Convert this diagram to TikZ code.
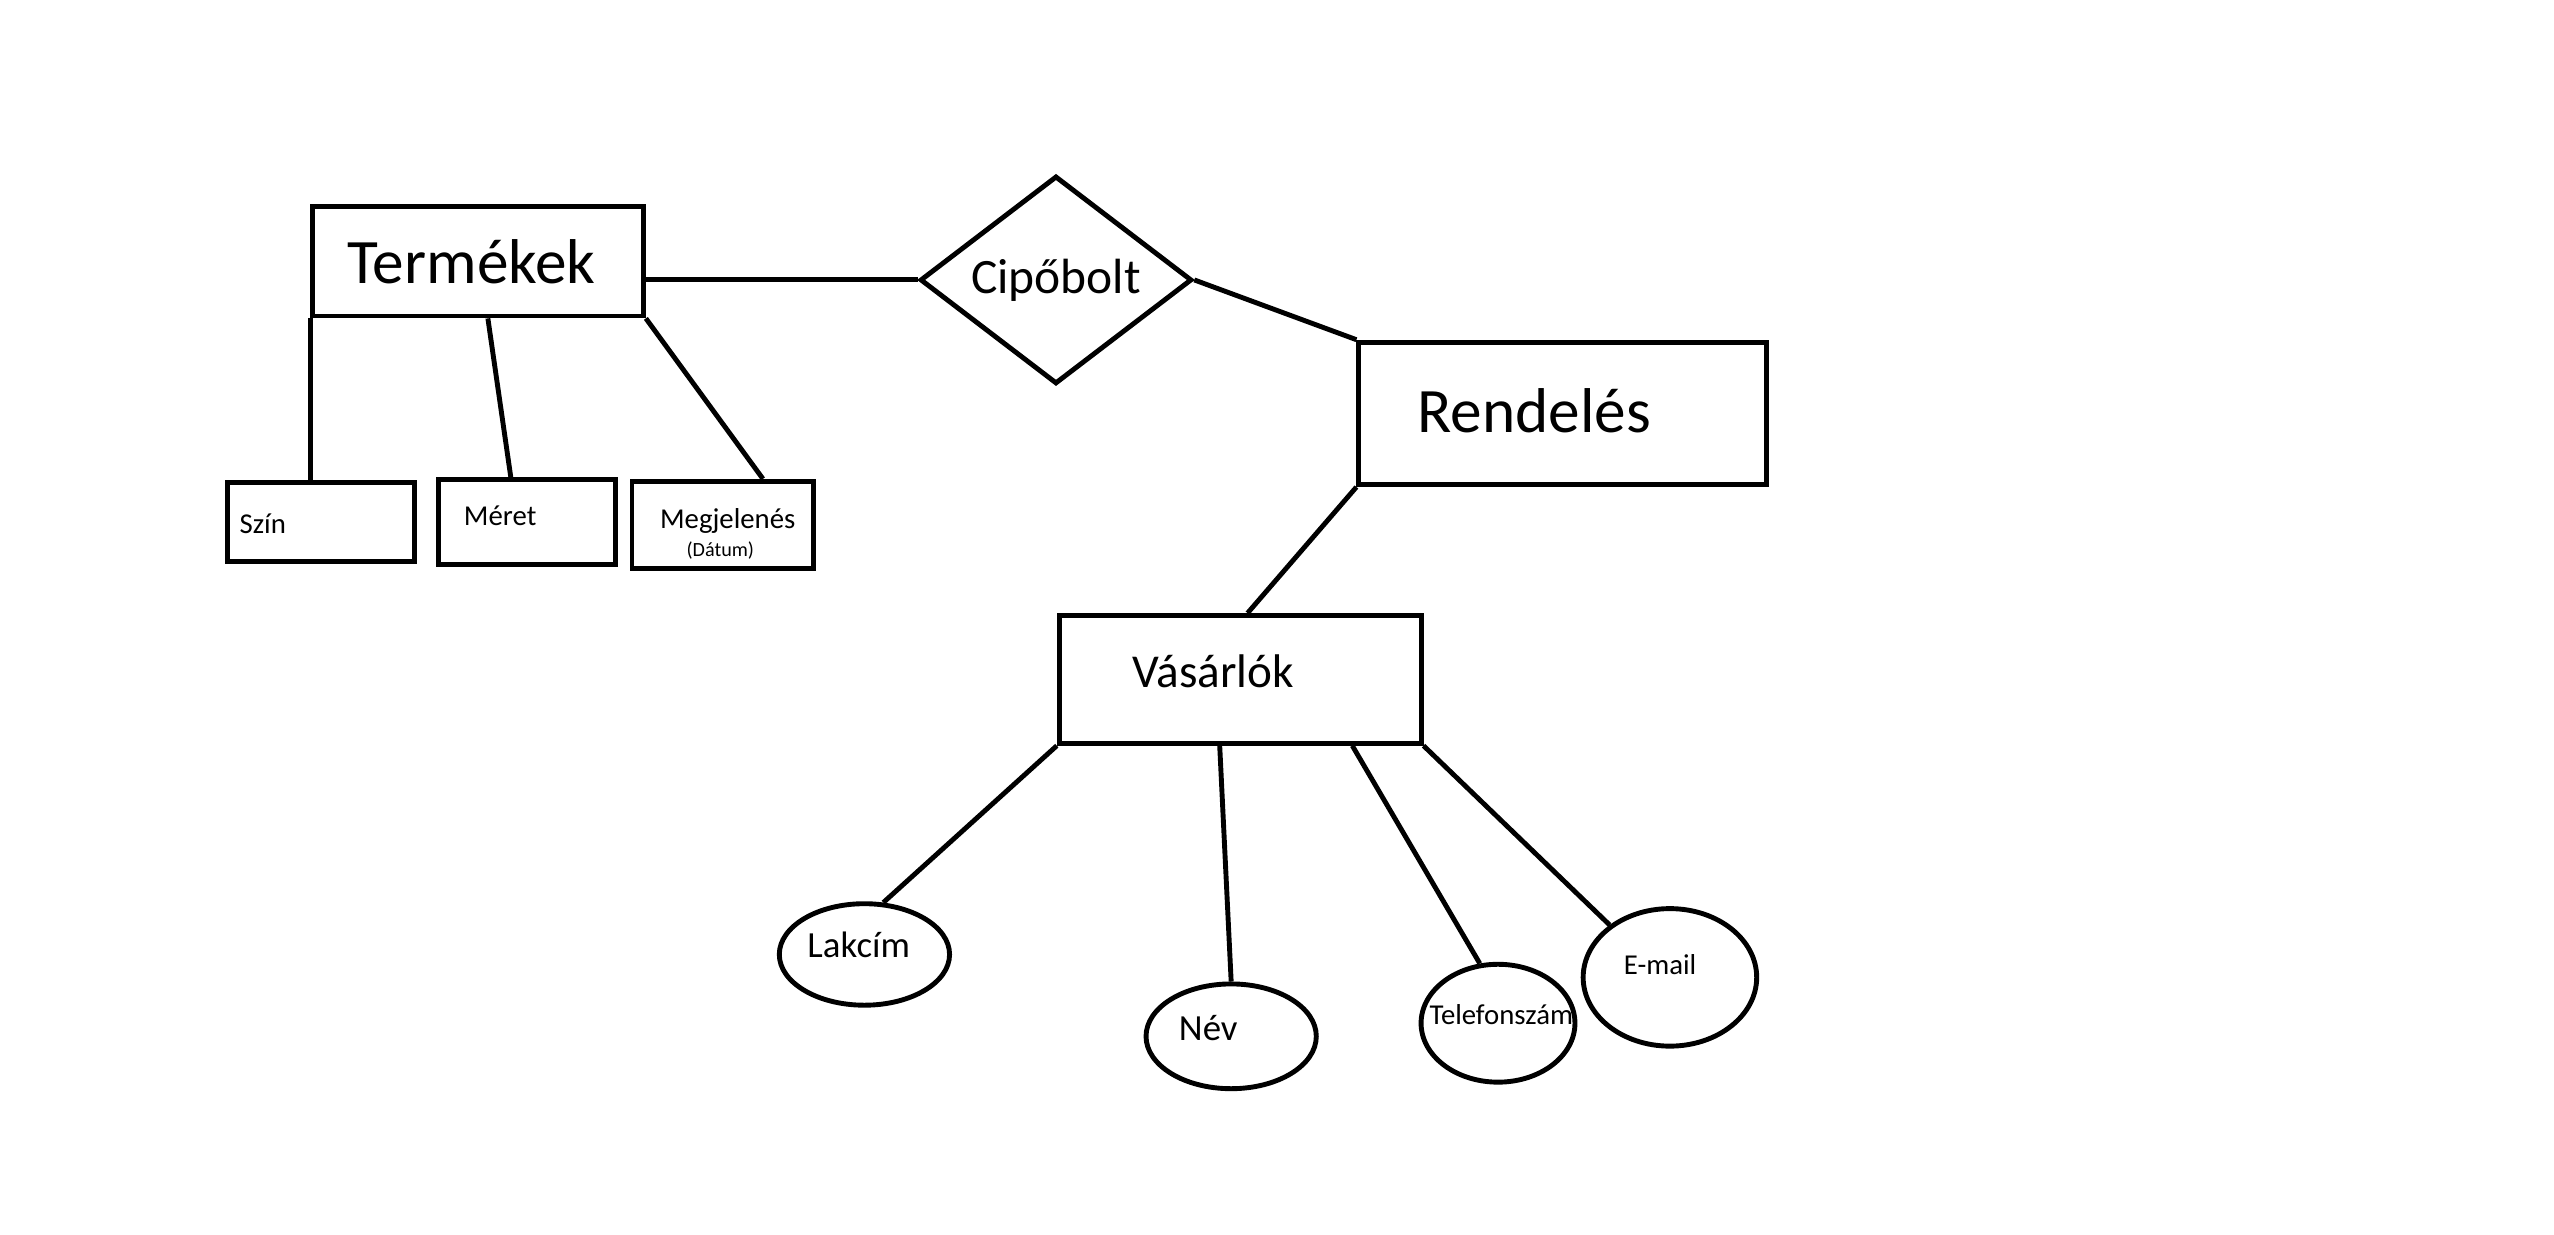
\documentclass[tikz,border=0pt]{standalone}
\usepackage{fontspec}
\setmainfont{Carlito}
\usetikzlibrary{positioning}
\usetikzlibrary{shapes.geometric}

\tikzset{
	box/.style={draw, rectangle, line width=0.85pt, inner sep=0pt},
	oval/.style={draw, ellipse, line width=0.85pt, inner sep=0pt},
	big/.style={font=\fontsize{11}{13}\selectfont},
	mid/.style={font=\fontsize{8.6}{10}\selectfont},
	small/.style={font=\fontsize{5}{6}\selectfont},
	tiny/.style={font=\fontsize{3.5}{4}\selectfont}
}

\begin{document}
\begin{tikzpicture}[x=0.1mm, y=-0.1mm, line width=0.85pt]
	\useasboundingbox (0,0) rectangle (1560,754);

	\node (ter) [box, minimum width=20.2mm, minimum height=6.7mm] at (292,159.5) {};
	\node (cip) [draw, diamond, aspect=1.3, inner sep=0pt, minimum width=16.6mm, minimum height=12.7mm, mid] at (645,171) {Cipőbolt};
	\node (ren) [box, minimum width=24.9mm, minimum height=8.7mm] at (954.5,252.5) {};
	\node (szin) [box, minimum width=11.4mm, minimum height=4.8mm] at (196,319) {};
	\node (mer) [box, minimum width=10.8mm, minimum height=5.2mm] at (322,319) {};
	\node (megj) [box, minimum width=11.1mm, minimum height=5.3mm] at (441.5,320.5) {};
	\node (vas) [box, minimum width=22.1mm, minimum height=7.8mm] at (757.5,415) {};
	\node (lak) [oval, minimum width=10.4mm, minimum height=6.2mm] at (528,583) {};
	\node (nev) [oval, minimum width=10.4mm, minimum height=6.4mm] at (752,633) {};
	\node (tel) [oval, minimum width=9.4mm, minimum height=7.2mm] at (915,625) {};
	\node (ema) [oval, minimum width=10.6mm, minimum height=8.4mm] at (1020,597) {};

	% texts
	\node (ter-t) [big] at (288,160) {Termékek};
	\node (ren-t) [big] at (937,251) {Rendelés};
	\node (vas-t) [mid, font=\fontsize{8.2}{10}\selectfont] at (741,410) {Vásárlók};
	\node (szin-t) [small] at (160.5,320) {Szín};
	\node (mer-t) [small] at (305.5,315) {Méret};
	\node (megj-t) [small] at (444.5,318) {Megjelenés};
	\node (dat-t) [tiny] at (440,336) {(Dátum)};
	\node (lak-t) [font=\fontsize{6.4}{8}\selectfont] at (524.5,577) {Lakcím};
	\node (nev-t) [font=\fontsize{6.4}{8}\selectfont] at (738,628) {Név};
	\node (tel-t) [small] at (917,620) {Telefonszám};
	\node (ema-t) [small] at (1014,589) {E-mail};

	\draw (ter.east |- cip.west) -- (cip.west);
	\draw (cip.east) -- (ren.north west);
	\draw (ter.south west) -- (ter.south west |- szin.north);
	\draw ([xshift=0.6mm]ter.south) -- ([xshift=-1mm]mer.north);
	\draw (ter.south east) -- ([xshift=2.45mm]megj.north);
	\draw (ren.south west) -- ([xshift=0.45mm]vas.north);
	\draw (vas.south west) -- (lak.70);
	\draw ([xshift=-1.25mm]vas.south) -- (nev.north);
	\draw ([xshift=6.85mm]vas.south) -- (tel.107);
	\draw (vas.south east) -- (ema.139);
\end{tikzpicture}
\end{document}
